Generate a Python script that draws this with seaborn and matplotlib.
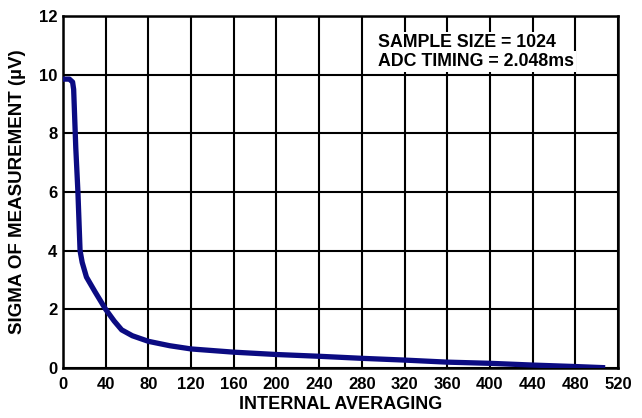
import numpy as np
import pandas as pd
import matplotlib
matplotlib.use('Agg')
import matplotlib.pyplot as plt
import seaborn as sns

# values
averaging = [0, 6, 9, 10, 12, 14, 16, 18, 22, 30, 40, 48, 55, 65, 80, 100,
             120, 160, 200, 240, 280, 320, 360, 400, 440, 480, 508]
sigma = [9.85, 9.85, 9.75, 9.5, 7.5, 6.0, 4.0, 3.6, 3.1, 2.6, 2.0, 1.6, 1.3,
         1.1, 0.91, 0.76, 0.65, 0.54, 0.46, 0.40, 0.33, 0.27, 0.20, 0.16,
         0.10, 0.05, 0.01]
x_ticks = list(range(0, 521, 40))
y_ticks = list(range(0, 13, 2))
note_lines = ['SAMPLE SIZE = 1024', 'ADC TIMING = 2.048ms']

df = pd.DataFrame({'avg': averaging, 'sigma': sigma})

sns.set_style('white')
plt.rcParams['font.family'] = ['Liberation Sans', 'DejaVu Sans']
plt.rcParams['font.weight'] = 'bold'
plt.rcParams['text.color'] = 'black'
plt.rcParams['axes.labelcolor'] = 'black'

fig = plt.figure(figsize=(6.42, 4.18), dpi=100)
ax = fig.add_axes([0.0981, 0.1196, 0.8645, 0.842])

sns.lineplot(data=df, x='avg', y='sigma', ax=ax, color='#0b0b82',
             linewidth=3.8, solid_capstyle='butt', zorder=3)

ax.set_xlim(0, 520)
ax.set_ylim(0, 12)
ax.set_xticks(x_ticks)
ax.set_yticks(y_ticks)
ax.grid(True, color='black', linewidth=1.5)
ax.set_axisbelow(True)
for s in ax.spines.values():
    s.set_color('black')
    s.set_linewidth(1.8)
ax.tick_params(length=0, labelsize=12, colors='black')
ax.tick_params(axis='x', pad=6.5)
ax.tick_params(axis='y', pad=4)
for lab in ax.get_xticklabels() + ax.get_yticklabels():
    lab.set_fontweight('bold')

ax.set_xlabel('INTERNAL AVERAGING', fontsize=13, fontweight='bold', labelpad=3)
ax.set_ylabel('SIGMA OF MEASUREMENT (µV)', fontsize=13.5, fontweight='bold', labelpad=9)

# white boxes behind the note hide the grid lines, like the original
ax.text(295, 11.1, note_lines[0], fontsize=12.8, fontweight='bold', va='center',
        ha='left', zorder=4, bbox=dict(fc='white', ec='none', pad=1.5))
ax.text(295, 10.45, note_lines[1], fontsize=12.8, fontweight='bold', va='center',
        ha='left', zorder=4, bbox=dict(fc='white', ec='none', pad=1.5))

fig.savefig('out.png', dpi=100)
